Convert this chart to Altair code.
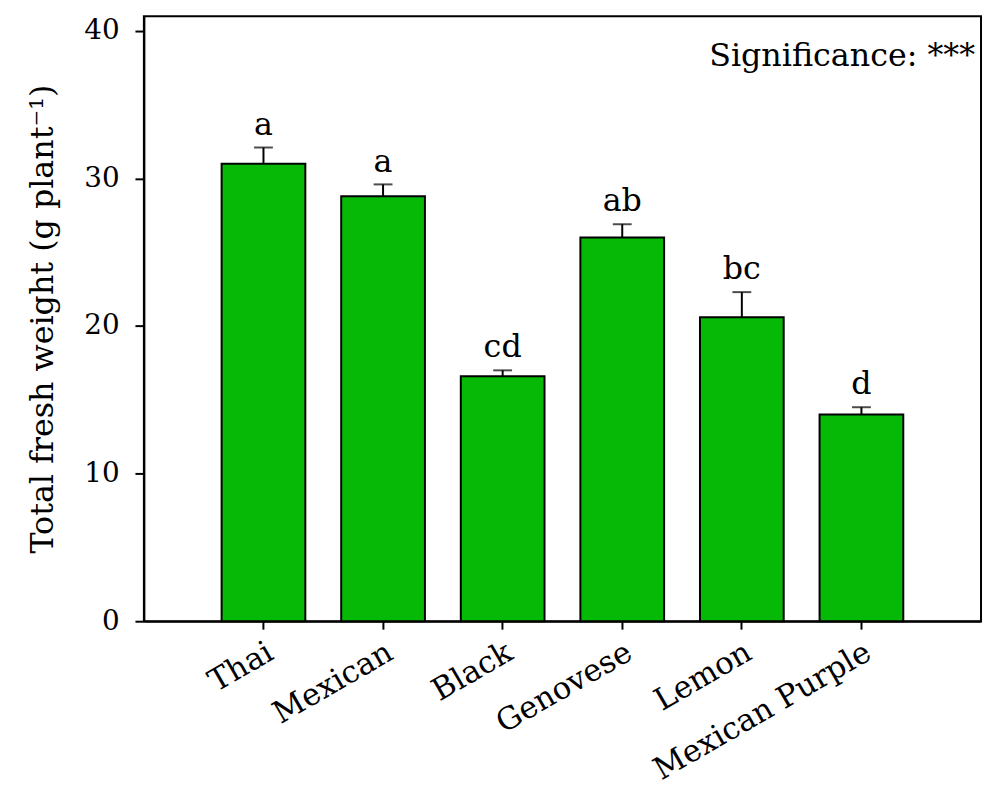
import altair as alt
import pandas as pd

cultivars = ["Thai", "Mexican", "Black", "Genovese", "Lemon", "Mexican Purple"]
fresh_weight = [31.0, 28.8, 16.6, 26.0, 20.6, 14.0]
std_error = [1.1, 0.8, 0.4, 0.9, 1.7, 0.5]
letters = ["a", "a", "cd", "ab", "bc", "d"]

df = pd.DataFrame({
    "cultivar": cultivars,
    "value": fresh_weight,
    "err": std_error,
    "letter": letters,
})
df["top"] = df["value"] + df["err"]

FONT = "DejaVu Serif"
GREEN = "#06B906"
W, H = 844, 610

xenc = alt.X("cultivar:N", sort=cultivars, title=None,
             scale=alt.Scale(paddingInner=0.30, paddingOuter=0.65),
             axis=alt.Axis(labelAngle=-30, labelAlign="right", labelBaseline="top",
                           labelFont=FONT, labelFontSize=31, labelColor="black",
                           labelLimit=0, labelOverlap=False,
                           labelPadding=8, tickSize=8, tickColor="black", tickWidth=2,
                           domainColor="black", domainWidth=2, grid=False))
yscale = alt.Scale(domain=[0, 41], nice=False, zero=True)

bars = alt.Chart(df).mark_bar(color=GREEN, stroke="black", strokeWidth=2).encode(
    x=xenc,
    y=alt.Y("value:Q", scale=yscale,
            title="Total fresh weight (g plant⁻¹)",
            axis=alt.Axis(values=[0, 10, 20, 30, 40], grid=False,
                          labelFont=FONT, labelFontSize=28, labelColor="black",
                          labelPadding=16, tickSize=9, tickColor="black", tickWidth=2,
                          domainColor="black", domainWidth=2,
                          titleFont=FONT, titleFontSize=32, titleFontWeight="normal",
                          titleColor="black", titlePadding=24)),
)

stems = alt.Chart(df).mark_rule(color="black", strokeWidth=2).encode(
    x=alt.X("cultivar:N", sort=cultivars),
    y="value:Q",
    y2="top:Q",
)

caps = alt.Chart(df).mark_tick(color="black", thickness=2, size=19).encode(
    x=alt.X("cultivar:N", sort=cultivars),
    y="top:Q",
)

labels = alt.Chart(df).mark_text(font=FONT, fontSize=32, color="black",
                                 baseline="bottom", dy=-6).encode(
    x=alt.X("cultivar:N", sort=cultivars),
    y="top:Q",
    text="letter:N",
)

sig = alt.Chart(pd.DataFrame({"t": ["Significance: ***"]})).mark_text(
    font=FONT, fontSize=32, color="black", align="right", baseline="alphabetic"
).encode(x=alt.value(W - 6), y=alt.value(50), text="t:N")

chart = alt.layer(bars, stems, caps, labels, sig).properties(
    width=W, height=H,
    padding={"left": 137, "top": 5, "right": 2, "bottom": 174},
    autosize=alt.AutoSizeParams(type="none"),
    background="white",
).configure_view(stroke="black", strokeWidth=2)

chart.save("out.html", embed_options={"renderer": "svg", "actions": False})
